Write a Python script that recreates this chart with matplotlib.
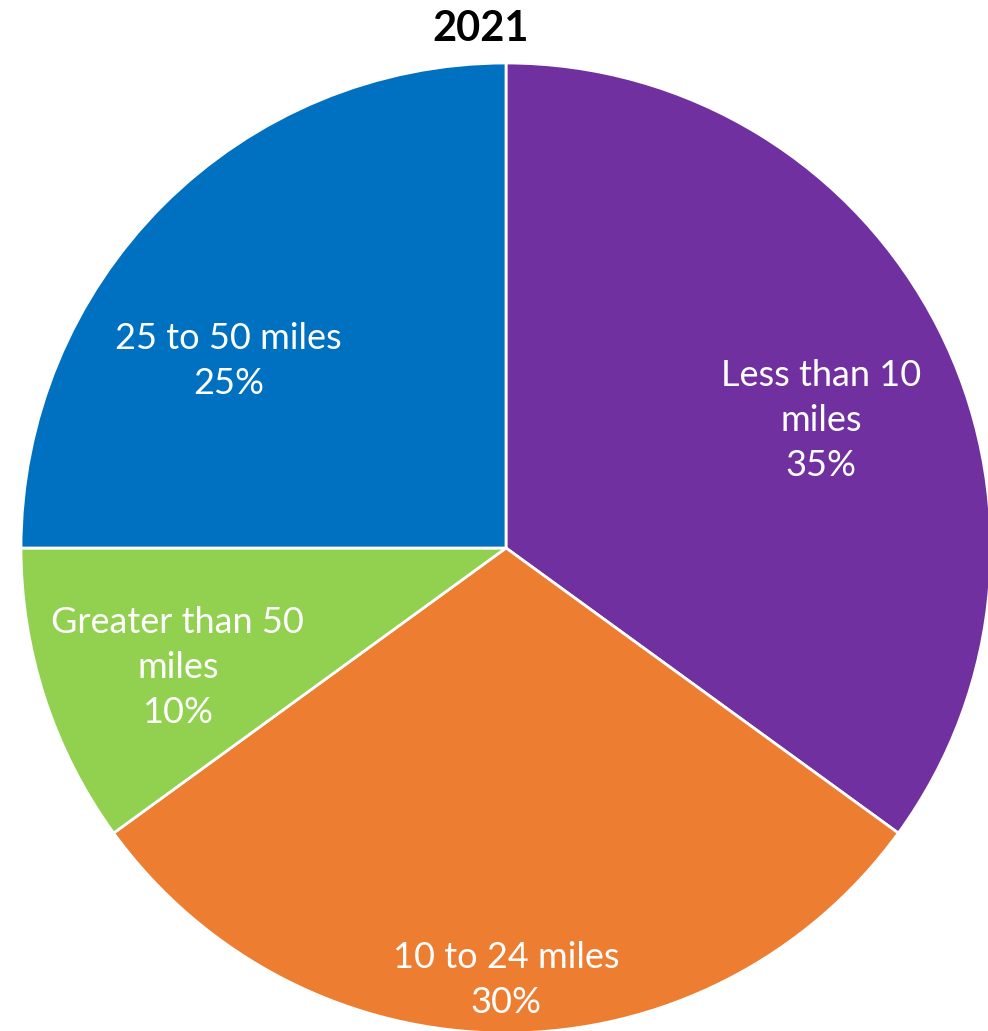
import numpy as np
import matplotlib.pyplot as plt

# Distance travelled, share of respondents (2021)
categories = ['Less than 10\nmiles', '10 to 24 miles', 'Greater than 50\nmiles', '25 to 50 miles']
shares = [35, 30, 10, 25]
colors = ['#7030A0', '#ED7D31', '#92D050', '#0070C0']

# label placement inside each wedge: radial distance and angle nudge (degrees)
label_dist = [0.70, 0.89, 0.72, 0.69]
label_nudge = [-5, 0, 2, 11]

fig = plt.figure(figsize=(9.88, 10.31), dpi=100)
ax = fig.add_axes([21 / 988, -2 / 1031, 970 / 988, 970 / 1031])

wedges, _ = ax.pie(shares, colors=colors, startangle=90, counterclock=False,
                   radius=1, wedgeprops=dict(edgecolor='white', linewidth=2))

for w, cat, val, d, nudge in zip(wedges, categories, shares, label_dist, label_nudge):
    ang = np.deg2rad((w.theta1 + w.theta2) / 2 + nudge)
    ax.text(d * np.cos(ang), d * np.sin(ang), f'{cat}\n{val}%',
            ha='center', va='center', color='white', fontsize=26,
            family='Lato', linespacing=1.45)

ax.set_xlim(-1, 1)
ax.set_ylim(-1, 1)
ax.set_aspect('equal')
ax.axis('off')

fig.text(481 / 988, 1 - 29 / 1031, '2021', ha='center', va='center',
         fontsize=30, fontweight='bold', family='Lato')

fig.savefig('out.png', dpi=100)
